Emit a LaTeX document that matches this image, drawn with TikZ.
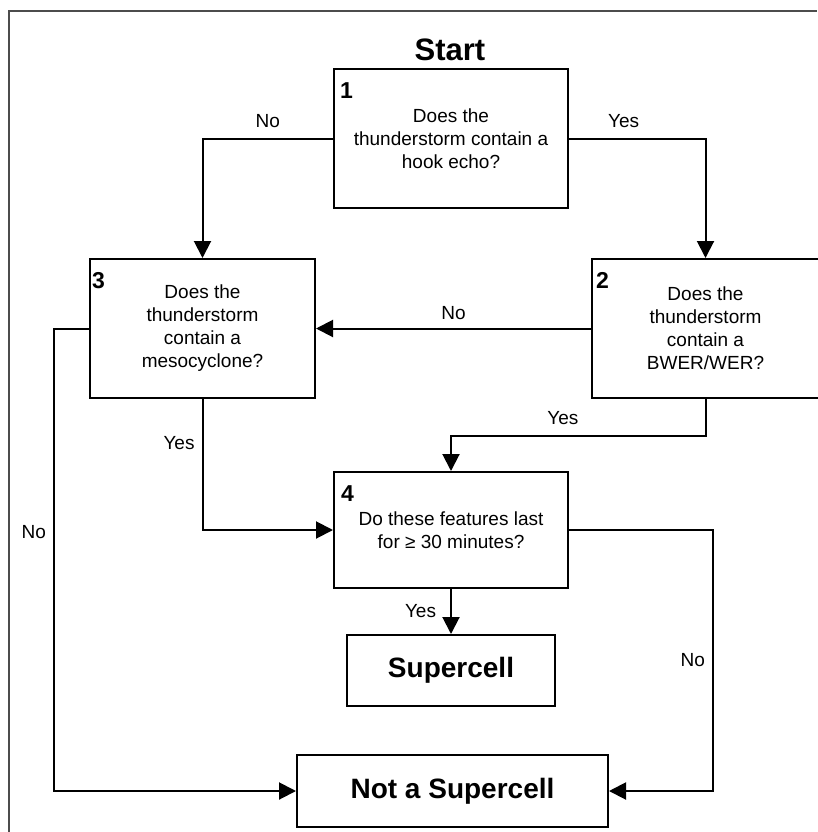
\documentclass[tikz,border=0pt]{standalone}
\usepackage{fontspec}
\setmainfont{Liberation Sans}
\usetikzlibrary{arrows.meta}
\begin{document}
\begin{tikzpicture}[x=1pt,y=-1pt,
  box/.style={draw, line width=2pt, inner sep=0pt, align=center, font=\fontsize{19}{23}\selectfont},
  endbox/.style={draw, line width=2pt, inner sep=0pt, font=\bfseries\fontsize{28}{28}\selectfont},
  num/.style={anchor=north west, inner sep=0pt, font=\bfseries\fontsize{23}{23}\selectfont},
  lbl/.style={inner sep=0pt, font=\fontsize{19}{19}\selectfont},
  arr/.style={line width=2pt, -{Triangle[length=17pt,width=17pt]}}]
\useasboundingbox (0,0) rectangle (817,832);
\draw[line width=1.2pt, black!70] (9,832) -- (9,11) -- (817,11);
\node[font=\bfseries\fontsize{31}{31}\selectfont] (start) at (450,50) {Start};
% questions
\node[box, minimum width=234pt, minimum height=139pt] (q1) at (451,138.5) {Does the\\thunderstorm contain a\\hook echo?};
\node[box, minimum width=227pt, minimum height=139pt] (q2) at (705.5,328.5) {Does the\\thunderstorm\\contain a\\BWER/WER?};
\node[box, minimum width=225pt, minimum height=139pt] (q3) at (202.5,328.5) {Does the\\thunderstorm\\contain a\\mesocyclone?};
\node[box, minimum width=234pt, minimum height=116pt] (q4) at (451,530) {Do these features last\\for ≥ 30 minutes?};
\node[num] (n1) at ([shift={(7pt,-14pt)}]q1.north west) {1};
\node[num] (n2) at ([shift={(5pt,-14pt)}]q2.north west) {2};
\node[num] (n3) at ([shift={(3pt,-14pt)}]q3.north west) {3};
\node[num] (n4) at ([shift={(8pt,-14pt)}]q4.north west) {4};
% results
\node[endbox, minimum width=208pt, minimum height=71pt] (super) at (451,670.5) {Supercell};
\node[endbox, minimum width=311pt, minimum height=72pt] (notsuper) at (452.5,791) {Not a Supercell};
% connectors
\draw[arr] (q1.west) -| node[lbl, above=10pt, pos=0.25] {No} (q3.north);
\draw[arr] (q1.east) -| node[lbl, above=10pt, pos=0.2] {Yes} (q2.north);
\draw[arr] (q2.west) -- node[lbl, above=8pt] {No} (q3.east);
\draw[arr] (q2.south) -- ++(0,37) -| node[lbl, above=10pt, pos=0.28] {Yes} (q4.north);
\draw[arr] (q3.south) |- node[lbl, left=7pt, pos=0.17] {Yes} (q4.west);
\draw[arr] (q3.west) -- ++(-35,0) |- node[lbl, left=7pt, pos=0.22] {No} (notsuper.west);
\draw[arr] (q4.south) -- node[lbl, left=14pt] {Yes} (super.north);
\draw[arr] (q4.east) -- ++(144,0) |- node[lbl, left=7pt, pos=0.25] {No} (notsuper.east);
\end{tikzpicture}
\end{document}
